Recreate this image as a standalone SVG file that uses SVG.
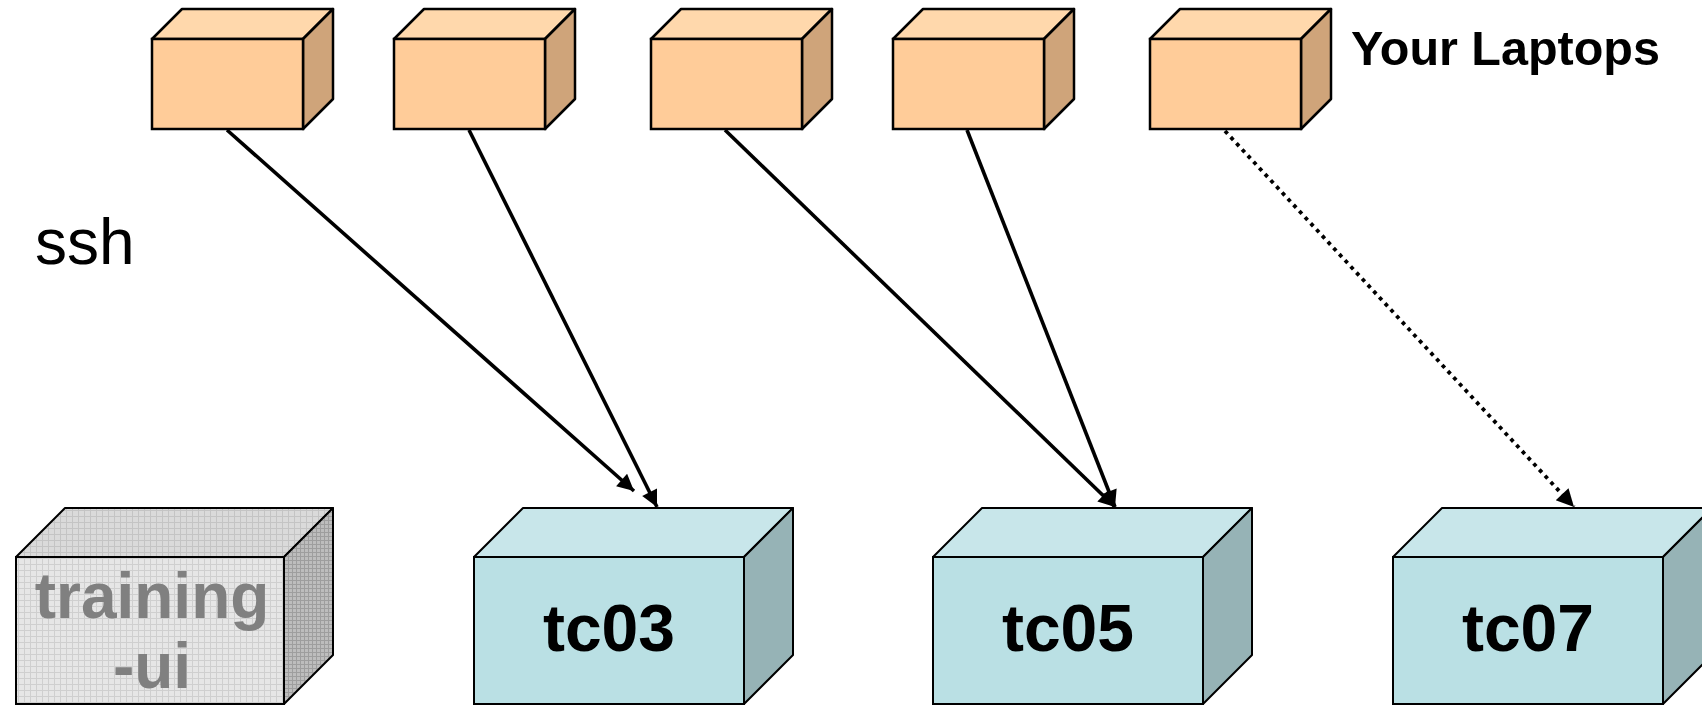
<svg xmlns="http://www.w3.org/2000/svg" width="1702" height="706" viewBox="0 0 1702 706">
<style>
.lf{fill:#FFCC99;stroke:#000;stroke-width:2.5}
.lt{fill:#FFD8AC;stroke:#000;stroke-width:2.5;stroke-linejoin:round}
.ls{fill:#CFA47A;stroke:#000;stroke-width:2.5;stroke-linejoin:round}
.sf{fill:#BAE0E4;stroke:#000;stroke-width:2}
.st{fill:#C8E6EA;stroke:#000;stroke-width:2;stroke-linejoin:round}
.ss{fill:#96B3B6;stroke:#000;stroke-width:2;stroke-linejoin:round}
.gf{fill:url(#gridF);stroke:#000;stroke-width:2}
.gt{fill:url(#gridT);stroke:#000;stroke-width:2;stroke-linejoin:round}
.gs{fill:url(#gridS);stroke:#000;stroke-width:2;stroke-linejoin:round}
.lbl{font-family:"Liberation Sans",Arial,sans-serif;font-weight:bold;font-size:66px;text-anchor:middle;fill:#000}
.gl{fill:#808080;font-size:64px}
.conn{stroke:#000;stroke-width:3.6;fill:none}
.dot{stroke:#000;stroke-width:3.8;fill:none;stroke-dasharray:3.8 4.6}
</style>
<defs>
<pattern id="gridF" width="6" height="6" patternUnits="userSpaceOnUse">
<rect width="6" height="6" fill="#E6E6E6"/>
<path d="M0 0.5H6M0.5 0V6" stroke="#CFCFCF" stroke-width="1"/>
</pattern>
<pattern id="gridT" width="6" height="6" patternUnits="userSpaceOnUse">
<rect width="6" height="6" fill="#DADADA"/>
<path d="M0 0.5H6M0.5 0V6" stroke="#C4C4C4" stroke-width="1"/>
</pattern>
<pattern id="gridS" width="4" height="4" patternUnits="userSpaceOnUse">
<rect width="4" height="4" fill="#BDBDBD"/>
<path d="M0 0.5H4M0.5 0V4" stroke="#9E9E9E" stroke-width="1"/>
</pattern>
<marker id="arr" viewBox="0 0 10 10" refX="10" refY="5" markerWidth="5.6" markerHeight="4.6" orient="auto" markerUnits="strokeWidth">
<path d="M0 0L10 5L0 10Z" fill="#000"/>
</marker>
</defs>

<g id="laptop1">
<path class="lt" d="M152 39L182 9H333L303 39Z"/>
<path class="ls" d="M303 39L333 9V99L303 129Z"/>
<rect class="lf" x="152" y="39" width="151" height="90"/>
</g>
<g id="laptop2">
<path class="lt" d="M394 39L424 9H575L545 39Z"/>
<path class="ls" d="M545 39L575 9V99L545 129Z"/>
<rect class="lf" x="394" y="39" width="151" height="90"/>
</g>
<g id="laptop3">
<path class="lt" d="M651 39L681 9H832L802 39Z"/>
<path class="ls" d="M802 39L832 9V99L802 129Z"/>
<rect class="lf" x="651" y="39" width="151" height="90"/>
</g>
<g id="laptop4">
<path class="lt" d="M893 39L923 9H1074L1044 39Z"/>
<path class="ls" d="M1044 39L1074 9V99L1044 129Z"/>
<rect class="lf" x="893" y="39" width="151" height="90"/>
</g>
<g id="laptop5">
<path class="lt" d="M1150 39L1180 9H1331L1301 39Z"/>
<path class="ls" d="M1301 39L1331 9V99L1301 129Z"/>
<rect class="lf" x="1150" y="39" width="151" height="90"/>
</g>

<g id="label-laptops">
<text x="1351" y="65" font-family="'Liberation Sans',Arial,sans-serif" font-weight="bold" font-size="48.5" fill="#000">Your Laptops</text>
</g>
<g id="label-ssh">
<text x="35" y="264" font-family="'Liberation Sans',Arial,sans-serif" font-size="64" fill="#000">ssh</text>
</g>

<g id="training-ui">
<path class="gt" d="M16 557L65 508H333L284 557Z"/>
<path class="gs" d="M284 557L333 508V655L284 704Z"/>
<rect class="gf" x="16" y="557" width="268" height="147"/>
<text class="lbl gl" x="152" y="618">training</text>
<text class="lbl gl" x="152" y="688">-ui</text>
</g>
<g id="tc03">
<path class="st" d="M474 557L523 508H793L744 557Z"/>
<path class="ss" d="M744 557L793 508V655L744 704Z"/>
<rect class="sf" x="474" y="557" width="270" height="147"/>
<text class="lbl" x="609" y="651">tc03</text>
</g>
<g id="tc05">
<path class="st" d="M933 557L982 508H1252L1203 557Z"/>
<path class="ss" d="M1203 557L1252 508V655L1203 704Z"/>
<rect class="sf" x="933" y="557" width="270" height="147"/>
<text class="lbl" x="1068" y="651">tc05</text>
</g>
<g id="tc07">
<path class="st" d="M1393 557L1442 508H1712L1663 557Z"/>
<path class="ss" d="M1663 557L1712 508V655L1663 704Z"/>
<rect class="sf" x="1393" y="557" width="270" height="147"/>
<text class="lbl" x="1528" y="651">tc07</text>
</g>

<g id="connectors">
<line class="conn" x1="227" y1="130" x2="634" y2="491" marker-end="url(#arr)"/>
<line class="conn" x1="469" y1="130" x2="657" y2="507" marker-end="url(#arr)"/>
<line class="conn" x1="725" y1="130" x2="1115" y2="507" marker-end="url(#arr)"/>
<line class="conn" x1="967" y1="130" x2="1115" y2="507" marker-end="url(#arr)"/>
<line class="dot" x1="1225" y1="131" x2="1574" y2="507" marker-end="url(#arr)"/>
</g>
</svg>
